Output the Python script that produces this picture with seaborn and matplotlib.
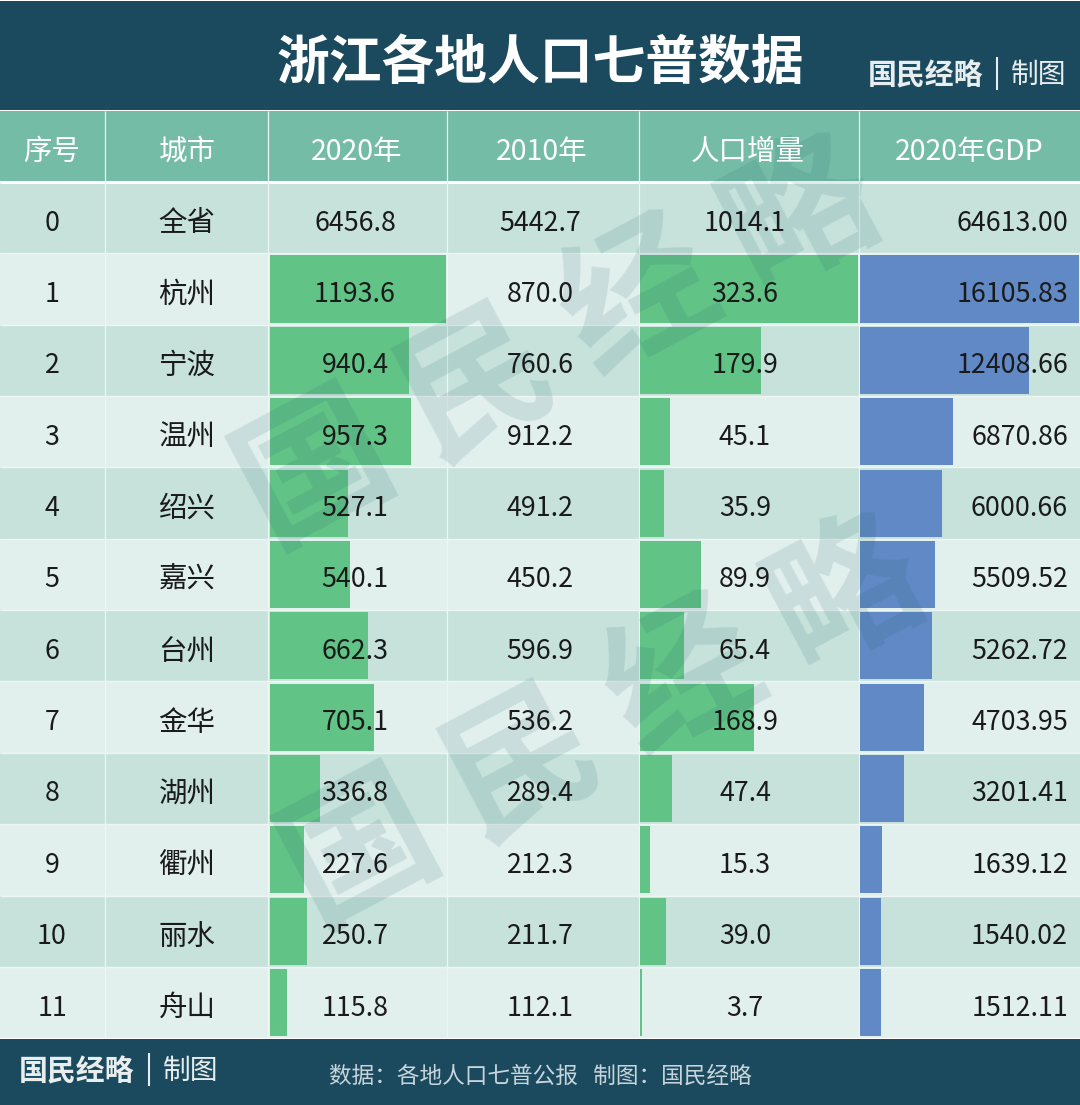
import matplotlib
matplotlib.use('Agg')
import matplotlib.pyplot as plt
import seaborn as sns
from matplotlib.patches import Rectangle

sns.set_theme(style='white')
plt.rcParams['font.family'] = ['Noto Sans CJK SC', 'DejaVu Sans']

# Dados
title = '浙江各地人口七普数据'
headers = ['序号', '城市', '2020年', '2010年', '人口增量', '2020年GDP']
order = ['0', '1', '2', '3', '4', '5', '6', '7', '8', '9', '10', '11']
cities = ['全省', '杭州', '宁波', '温州', '绍兴', '嘉兴', '台州', '金华', '湖州', '衢州', '丽水', '舟山']
pop_2020 = [6456.8, 1193.6, 940.4, 957.3, 527.1, 540.1, 662.3, 705.1, 336.8, 227.6, 250.7, 115.8]
pop_2010 = [5442.7, 870.0, 760.6, 912.2, 491.2, 450.2, 596.9, 536.2, 289.4, 212.3, 211.7, 112.1]
pop_delta = [1014.1, 323.6, 179.9, 45.1, 35.9, 89.9, 65.4, 168.9, 47.4, 15.3, 39.0, 3.7]
gdp_2020 = [64613.00, 16105.83, 12408.66, 6870.86, 6000.66, 5509.52, 5262.72, 4703.95, 3201.41, 1639.12, 1540.02, 1512.11]
source = '数据：各地人口七普公报   制图：国民经略'

W, H = 1080, 1105
NAVY = '#1b4a5f'
HEAD = '#75bca7'
BAND_A = '#c6e2db'
BAND_B = '#e2f0ed'
GREEN = '#62c387'
BLUE = '#6089c6'
TOP, ROW = 182.0, 71.35
EDGES = [105, 268, 447, 639, 859]

fig = plt.figure(figsize=(W / 100, H / 100), dpi=100)


def px_axes(x0, y0, x1, y1, zorder):
    ax = fig.add_axes([x0 / W, 1 - y1 / H, (x1 - x0) / W, (y1 - y0) / H], zorder=zorder)
    ax.patch.set_alpha(0)
    return ax


# Fundo da tabela
bg = px_axes(0, 0, W, H, 0)
bg.set_xlim(0, W)
bg.set_ylim(H, 0)
bg.axis('off')
bg.add_patch(Rectangle((0, 1), W, 109, color=NAVY, lw=0))
bg.add_patch(Rectangle((0, 111), W, 70, color=HEAD, lw=0))
for i in range(12):
    bg.add_patch(Rectangle((0, TOP + i * ROW), W, ROW, color=BAND_A if i % 2 == 0 else BAND_B, lw=0))
bg.add_patch(Rectangle((0, 1039), W, 66, color=NAVY, lw=0))
bg.hlines(182, 0, W, color='white', lw=2.2)
for i in range(1, 12):
    bg.hlines(TOP + i * ROW, 0, W, color='#eef6f4', lw=1.0)
bg.vlines(EDGES, 111, 1038, color='#eef6f4', lw=0.9)

# Barras de dados (a linha 0 fica sem barra)
bar_cols = [(pop_2020, 270, 446, GREEN), (pop_delta, 640, 858, GREEN), (gdp_2020, 860, 1079, BLUE)]
for values, x0, x1, colour in bar_cols:
    ax = px_axes(x0, TOP, x1, TOP + 12 * ROW, 1)
    shown = [None] + list(values[1:])
    sns.barplot(x=shown, y=order, order=order, orient='h', color=colour, saturation=1,
                width=0.94, ax=ax, linewidth=0)
    ax.set_xlim(0, max(values[1:]))
    ax.axis('off')

# Marca d'agua e textos
top = px_axes(0, 0, W, H, 2)
top.set_xlim(0, W)
top.set_ylim(H, 0)
top.axis('off')
for cx, cy in [(315, 470), (360, 850)]:
    for k, ch in enumerate('国民经略'):
        top.text(cx + k * 162, cy - k * 85, ch, fontsize=108, fontweight='bold', color='#1f5f66',
                 alpha=0.13, rotation=28, rotation_mode='anchor', ha='center', va='center', zorder=1)

top.text(540, 63, title, color='white', fontsize=38, fontweight='bold', ha='center', va='center', zorder=5)
top.text(925.5, 75, '国民经略', color='#e8eeee', fontsize=20.8, fontweight='bold', ha='center', va='center', zorder=5)
top.text(1039, 75, '制图', color='#e8eeee', fontsize=20, ha='center', va='center', zorder=5)
top.vlines(997, 57, 90, color='#e8eeee', lw=1.5, zorder=5)

head_x = [52, 187, 357, 542, 748, 969]
for x, label in zip(head_x, headers):
    top.text(x, 152, label, color='white', fontsize=20.5, ha='center', va='center', zorder=5)

INK = '#1a1a1a'
for i in range(12):
    y = TOP + (i + 0.5) * ROW + 5.5
    top.text(52, y, order[i], color=INK, fontsize=19.3, weight='light', ha='center', va='center', zorder=5)
    top.text(187, y, cities[i], color=INK, fontsize=20.5, weight='light', ha='center', va='center', zorder=5)
    top.text(355, y, f'{pop_2020[i]:.1f}', color=INK, fontsize=19.3, weight='light', ha='center', va='center', zorder=5)
    top.text(540, y, f'{pop_2010[i]:.1f}', color=INK, fontsize=19.3, weight='light', ha='center', va='center', zorder=5)
    top.text(745, y, f'{pop_delta[i]:.1f}', color=INK, fontsize=19.3, weight='light', ha='center', va='center', zorder=5)
    top.text(1068, y, f'{gdp_2020[i]:.2f}', color=INK, fontsize=19.3, weight='light', ha='right', va='center', zorder=5)

top.text(76.5, 1071, '国民经略', color='#e8eeee', fontsize=20.8, fontweight='bold', ha='center', va='center', zorder=5)
top.text(191, 1071, '制图', color='#e8eeee', fontsize=20, ha='center', va='center', zorder=5)
top.vlines(149, 1053, 1086, color='#e8eeee', lw=1.5, zorder=5)
top.text(329, 1076, source, color='#c8d5db', fontsize=16.3, ha='left', va='center', zorder=5)

fig.savefig('out.png', dpi=100, facecolor='white')
plt.close(fig)
